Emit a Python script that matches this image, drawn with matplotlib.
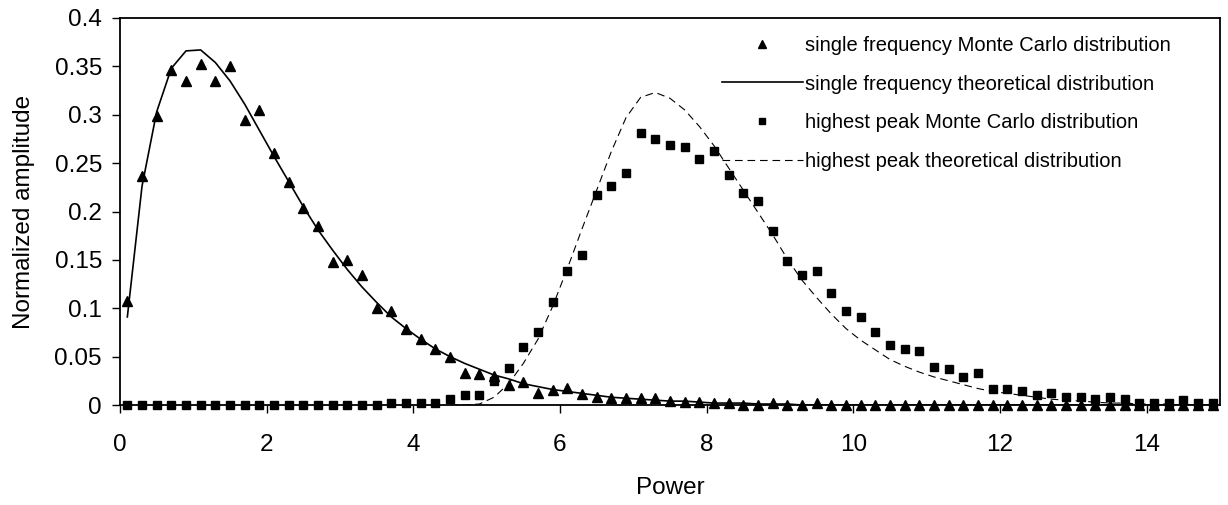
import numpy as np
import matplotlib
matplotlib.use("Agg")
import matplotlib.pyplot as plt

plt.rcParams['font.family'] = ['Liberation Sans', 'DejaVu Sans']
plt.rcParams['lines.scale_dashes'] = False

# Power grid (bin centres)
power = np.round(np.arange(0.1, 15.0, 0.2), 1)
power_peak_theory = np.round(np.arange(4.5, 15.0, 0.2), 1)

# Single frequency: Monte Carlo histogram
single_mc = [
    0.108, 0.237, 0.299, 0.346, 0.335, 0.352, 0.335, 0.350, 0.295, 0.305,
    0.260, 0.231, 0.204, 0.185, 0.148, 0.150, 0.134, 0.100, 0.097, 0.079,
    0.068, 0.058, 0.050, 0.033, 0.032, 0.030, 0.021, 0.024, 0.012, 0.016,
    0.018, 0.011, 0.008, 0.007, 0.007, 0.007, 0.007, 0.004, 0.003, 0.003,
    0.002, 0.002, 0.000, 0.000, 0.002, 0.000, 0.000, 0.002, 0.000, 0.000,
    0.000, 0.000, 0.000, 0.000, 0.000, 0.000, 0.000, 0.000, 0.000, 0.000,
    0.000, 0.000, 0.000, 0.000, 0.000, 0.000, 0.000, 0.000, 0.000, 0.000,
    0.000, 0.000, 0.000, 0.000, 0.000,
]

# Single frequency: theoretical curve
single_theory = [
    0.091, 0.226, 0.303, 0.348, 0.366, 0.367, 0.354, 0.335, 0.311, 0.284,
    0.257, 0.231, 0.205, 0.181, 0.160, 0.140, 0.122, 0.106, 0.091, 0.079,
    0.068, 0.058, 0.050, 0.043, 0.037, 0.031, 0.027, 0.022, 0.019, 0.016,
    0.014, 0.012, 0.010, 0.008, 0.007, 0.006, 0.005, 0.004, 0.004, 0.003,
    0.002, 0.002, 0.002, 0.001, 0.001, 0.001, 0.000, 0.000, 0.000, 0.000,
    0.000, 0.000, 0.000, 0.000, 0.000, 0.000, 0.000, 0.000, 0.000, 0.000,
    0.000, 0.000, 0.000, 0.000, 0.000, 0.000, 0.000, 0.000, 0.000, 0.000,
    0.000, 0.000, 0.000, 0.000, 0.000,
]

# Highest peak: Monte Carlo histogram
peak_mc = [
    0.000, 0.000, 0.000, 0.000, 0.000, 0.000, 0.000, 0.000, 0.000, 0.000,
    0.000, 0.000, 0.000, 0.000, 0.000, 0.000, 0.000, 0.000, 0.002, 0.002,
    0.002, 0.002, 0.006, 0.010, 0.010, 0.025, 0.038, 0.060, 0.075, 0.106,
    0.139, 0.155, 0.217, 0.226, 0.240, 0.281, 0.275, 0.269, 0.267, 0.254,
    0.263, 0.238, 0.219, 0.211, 0.180, 0.149, 0.134, 0.139, 0.116, 0.097,
    0.091, 0.075, 0.062, 0.058, 0.056, 0.039, 0.037, 0.029, 0.033, 0.017,
    0.017, 0.014, 0.010, 0.012, 0.008, 0.008, 0.006, 0.008, 0.006, 0.002,
    0.002, 0.002, 0.005, 0.002, 0.002,
]

# Highest peak: theoretical curve
peak_theory = [
    0.000, 0.000, 0.001, 0.008, 0.022, 0.043, 0.068, 0.102, 0.141, 0.182,
    0.222, 0.262, 0.297, 0.318, 0.323, 0.317, 0.305, 0.288, 0.268, 0.245,
    0.222, 0.199, 0.176, 0.151, 0.129, 0.111, 0.094, 0.079, 0.067, 0.057,
    0.047, 0.040, 0.034, 0.029, 0.025, 0.021, 0.017, 0.014, 0.012, 0.010,
    0.008, 0.006, 0.005, 0.004, 0.003, 0.002, 0.002, 0.001, 0.001, 0.001,
    0.000, 0.000, 0.000,
]

labels = [
    "single frequency Monte Carlo distribution",
    "single frequency theoretical distribution",
    "highest peak Monte Carlo distribution",
    "highest peak theoretical distribution",
]

fig = plt.figure(figsize=(12.28, 5.05), dpi=100)
ax = fig.add_axes([120 / 1228, 1 - 405 / 505, 1100 / 1228, 387 / 505])

h_tri, = ax.plot(power, single_mc, linestyle='none', marker='^', ms=7.5,
                 color='black', clip_on=False, zorder=4)
h_line, = ax.plot(power, single_theory, color='black', lw=1.2, zorder=3)
h_sq, = ax.plot(power, peak_mc, linestyle='none', marker='s', ms=5.5,
                color='black', clip_on=False, zorder=4)
h_dash, = ax.plot(power_peak_theory, peak_theory, color='black', lw=0.8,
                  dashes=(5.5, 3.5), zorder=3)

ax.set_xlim(0, 15)
ax.set_ylim(0, 0.4)
ax.set_xticks(np.arange(0, 15, 2))
ax.set_yticks(np.arange(0, 0.401, 0.05))
ax.set_yticklabels(["0", "0.05", "0.1", "0.15", "0.2", "0.25", "0.3", "0.35", "0.4"])

for s in ax.spines.values():
    s.set_linewidth(1.3)
    s.set_color('black')

ax.tick_params(axis='both', direction='out', length=6, width=1.0,
               labelsize=17.5, colors='black')
ax.tick_params(axis='x', pad=15)
ax.tick_params(axis='y', pad=7)

ax.set_xlabel("Power", fontsize=17.5, labelpad=15)
ax.set_ylabel("Normalized amplitude", fontsize=17.5, labelpad=14)

leg = fig.legend([h_tri, h_line, h_sq, h_dash], labels,
                 loc='upper left', bbox_to_anchor=(722 / 1228, 1 - 36 / 505),
                 frameon=False, fontsize=14.5, handlelength=4.0,
                 handletextpad=0.12, labelspacing=0.97, borderpad=0,
                 borderaxespad=0, markerscale=0.8)

fig.savefig("out.png", dpi=100)
